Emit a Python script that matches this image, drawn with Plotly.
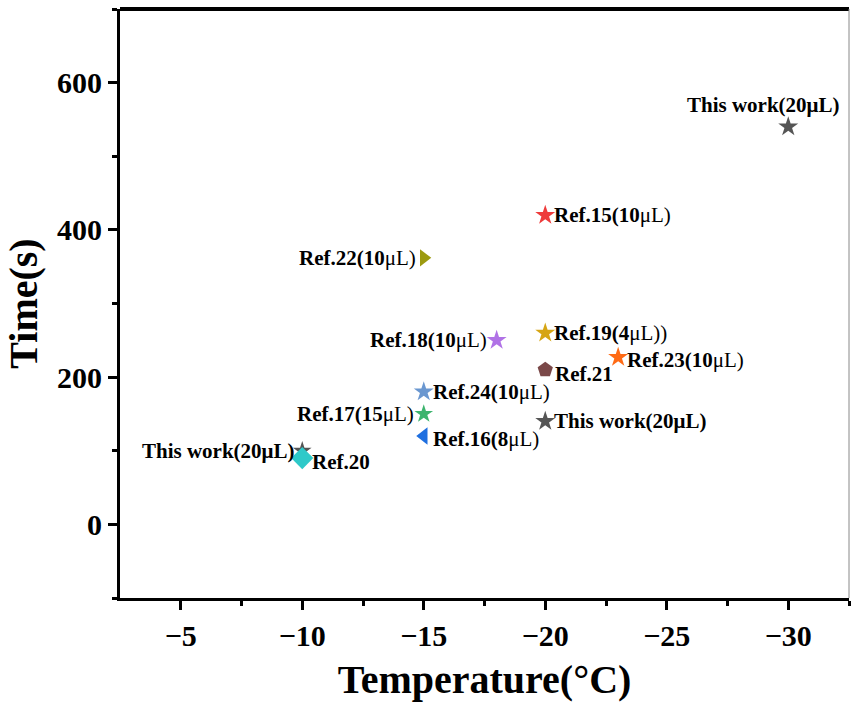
import plotly.graph_objects as go

labels = ["This work(20μL)", "Ref.15(10μL)", "Ref.22(10μL)", "Ref.18(10μL)", "Ref.19(4μL))",
          "Ref.23(10μL)", "Ref.21", "Ref.24(10μL)", "Ref.17(15μL)", "Ref.16(8μL)",
          "This work(20μL)", "This work(20μL)", "Ref.20"]
temps = [-30, -20, -15, -18, -20, -23, -20, -15, -15, -15, -20, -10, -10]
times = [540, 420, 362, 250, 260, 227, 210, 180, 150, 120, 140, 100, 90]
colors = ["#555555", "#EE3B3B", "#9C9A10", "#B072E6", "#D6A514", "#FF6A14", "#7A4848",
          "#6A97D0", "#3DB46E", "#1E6FE0", "#555555", "#555555", "#2EC9C9"]
symbols = ["star", "star", "triangle-right", "star", "star", "star", "pentagon", "star",
           "star", "triangle-left", "star", "star", "diamond"]
sizes = [15, 15, 15, 15, 15, 15, 16, 15, 14, 15, 15, 14, 17]
# label anchor / pixel offsets for each annotation
anchors = [("center", "bottom", -25, 8), ("left", "middle", 7, 0), ("right", "middle", -6, 0),
           ("right", "middle", -8, 0), ("left", "middle", 7, 0), ("left", "middle", 7, -3),
           ("left", "middle", 8, -4), ("left", "middle", 7, 0), ("right", "middle", -8, 0),
           ("left", "middle", 7, -3), ("left", "middle", 7, 0), ("right", "middle", -5, 0),
           ("left", "middle", 8, -4)]

FONT = "Liberation Serif"

def fmt(s):
    if s.startswith("This work"):
        return "<b>" + s + "</b>"
    if "(" in s:
        i = s.index("μ")
        return "<b>" + s[:i] + "</b>" + s[i:]
    return "<b>" + s + "</b>"

fig = go.Figure()
for lab, x, y, c, sym, sz, (xa, ya, dx, dy) in zip(labels, temps, times, colors, symbols, sizes, anchors):
    fig.add_trace(go.Scatter(
        x=[x], y=[y], mode="markers",
        marker=dict(symbol=sym, color=c, size=sz, line=dict(width=0)),
        showlegend=False, cliponaxis=False))
    fig.add_annotation(x=x, y=y, text=fmt(lab), showarrow=False, xanchor=xa, yanchor=ya,
                       xshift=dx, yshift=dy,
                       font=dict(family=FONT, size=21, color="black"))

axis_common = dict(showgrid=False, zeroline=False, showline=True, linecolor="black",
                   linewidth=3, ticks="outside", ticklen=9, tickwidth=3, tickcolor="black",
                   tickfont=dict(family=FONT, size=30, color="black"))

fig.update_xaxes(range=[-2.5, -32.5], tickvals=[-5, -10, -15, -20, -25, -30],
                 ticktext=["<b>−5</b>", "<b>−10</b>", "<b>−15</b>", "<b>−20</b>", "<b>−25</b>", "<b>−30</b>"],
                 minor=dict(tickvals=[-7.5, -12.5, -17.5, -22.5, -27.5, -32.5], ticks="outside",
                            ticklen=5, tickwidth=3, tickcolor="black"),
                 title=dict(text="<b>Temperature(°C)</b>", font=dict(family=FONT, size=40, color="black"),
                            standoff=14),
                 **axis_common)
fig.update_yaxes(range=[-100, 700], tickvals=[0, 200, 400, 600],
                 ticktext=["<b>0</b>", "<b>200</b>", "<b>400</b>", "<b>600</b>"],
                 minor=dict(tickvals=[-100, 100, 300, 500, 700], ticks="outside",
                            ticklen=5, tickwidth=3, tickcolor="black"),
                 title=dict(text="<b>Time(s)</b>", font=dict(family=FONT, size=40, color="black"),
                            standoff=8),
                 **axis_common)

fig.add_shape(type="line", xref="paper", yref="paper", x0=0, x1=1, y0=1, y1=1,
              line=dict(color="black", width=4))
fig.add_shape(type="line", xref="paper", yref="paper", x0=1, x1=1, y0=0, y1=1,
              line=dict(color="#888888", width=1))

fig.update_layout(width=851, height=711, margin=dict(l=120, r=2, t=9, b=113),
                  plot_bgcolor="white", paper_bgcolor="white",
                  font=dict(family=FONT, color="black"))

fig.write_html("out.html")
